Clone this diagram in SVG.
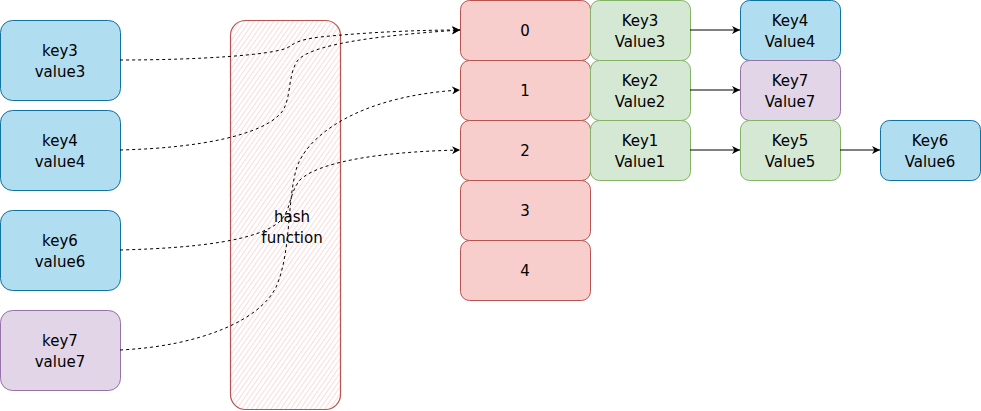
<svg xmlns="http://www.w3.org/2000/svg" width="981" height="411" viewBox="0 0 981 411">
<defs>
<pattern id="hatch" width="4" height="4" patternUnits="userSpaceOnUse" patternTransform="rotate(35)">
<rect width="4" height="4" fill="#ffffff"/>
<line x1="0" y1="0" x2="0" y2="4" stroke="#f8cecc" stroke-width="1.4"/>
</pattern>
<marker id="arr" viewBox="0 0 10 10" refX="10" refY="5" markerWidth="8" markerHeight="8" markerUnits="userSpaceOnUse" orient="auto">
<path d="M0,0 L10,5 L0,10 L3,5 Z" fill="#000"/>
</marker>
<style>
.blue{fill:#b1ddf0;stroke:#10739e;stroke-width:1}
.green{fill:#d5e8d4;stroke:#82b366;stroke-width:1}
.red{fill:#f8cecc;stroke:#b85450;stroke-width:1}
.purple{fill:#e1d5e7;stroke:#9673a6;stroke-width:1}
text{font-family:"Comic Sans MS","DejaVu Sans","Liberation Sans",sans-serif;font-size:15px;fill:#000;text-anchor:middle;dominant-baseline:central}
.dash{fill:none;stroke:#000;stroke-width:1;stroke-dasharray:3 3;marker-end:url(#arr)}
.solid{fill:none;stroke:#000;stroke-width:1;marker-end:url(#arr)}
</style>
</defs>
<rect width="981" height="411" fill="#fff"/>
<g id="hash">
<rect x="230.5" y="20.5" width="110" height="389" rx="15" fill="url(#hatch)" stroke="#b85450" stroke-width="1.2"/>
<text x="292" y="217">hash</text>
<text x="292" y="238">function</text>
</g>
<g id="key3"><rect class="blue" x="0.5" y="20.5" width="120" height="80" rx="12"/><text x="60" y="51">key3</text><text x="60" y="72">value3</text></g>
<g id="key4"><rect class="blue" x="0.5" y="110.5" width="120" height="80" rx="12"/><text x="60" y="141">key4</text><text x="60" y="162">value4</text></g>
<g id="key6"><rect class="blue" x="0.5" y="210.5" width="120" height="80" rx="12"/><text x="60" y="241">key6</text><text x="60" y="262">value6</text></g>
<g id="key7"><rect class="purple" x="0.5" y="310.5" width="120" height="80" rx="12"/><text x="60" y="341">key7</text><text x="60" y="362">value7</text></g>
<g id="b0"><rect class="red" x="460.5" y="0.5" width="130" height="60" rx="9"/><text x="525" y="31">0</text></g>
<g id="b1"><rect class="red" x="460.5" y="60.5" width="130" height="60" rx="9"/><text x="525" y="91">1</text></g>
<g id="b2"><rect class="red" x="460.5" y="120.5" width="130" height="60" rx="9"/><text x="525" y="151">2</text></g>
<g id="b3"><rect class="red" x="460.5" y="180.5" width="130" height="60" rx="9"/><text x="525" y="211">3</text></g>
<g id="b4"><rect class="red" x="460.5" y="240.5" width="130" height="60" rx="9"/><text x="525" y="271">4</text></g>
<g id="kv3"><rect class="green" x="590.5" y="0.5" width="100" height="60" rx="9"/><text x="640" y="21">Key3</text><text x="640" y="42">Value3</text></g>
<g id="kv2"><rect class="green" x="590.5" y="60.5" width="100" height="60" rx="9"/><text x="640" y="81">Key2</text><text x="640" y="102">Value2</text></g>
<g id="kv1"><rect class="green" x="590.5" y="120.5" width="100" height="60" rx="9"/><text x="640" y="141">Key1</text><text x="640" y="162">Value1</text></g>
<g id="kv4"><rect class="blue" x="740.5" y="0.5" width="100" height="60" rx="9"/><text x="790" y="21">Key4</text><text x="790" y="42">Value4</text></g>
<g id="kv7"><rect class="purple" x="740.5" y="60.5" width="100" height="60" rx="9"/><text x="790" y="81">Key7</text><text x="790" y="102">Value7</text></g>
<g id="kv5"><rect class="green" x="740.5" y="120.5" width="100" height="60" rx="9"/><text x="790" y="141">Key5</text><text x="790" y="162">Value5</text></g>
<g id="kv6"><rect class="blue" x="880.5" y="120.5" width="100" height="60" rx="9"/><text x="930" y="141">Key6</text><text x="930" y="162">Value6</text></g>
<g id="connectors">
<path class="dash" d="M120,60 C200,60 270,55 287,48 C294,44 296,40 320,37 C370,32 420,30 460,30"/>
<path class="dash" d="M120,150 C200,148 262,135 281,113 C292,100 287,75 298,60 C312,45 370,36 460,30"/>
<path class="dash" d="M120,350 C200,346 262,320 277,285 C291,250 287,205 296,170 C306,135 360,96 460,90"/>
<path class="dash" d="M120,250 C200,248 258,240 279,222 C292,210 288,195 300,180 C316,164 370,152 460,150"/>
<path class="solid" d="M690,30 L740,30"/>
<path class="solid" d="M690,90 L740,90"/>
<path class="solid" d="M690,150 L740,150"/>
<path class="solid" d="M840,150 L880,150"/>
</g>
</svg>
